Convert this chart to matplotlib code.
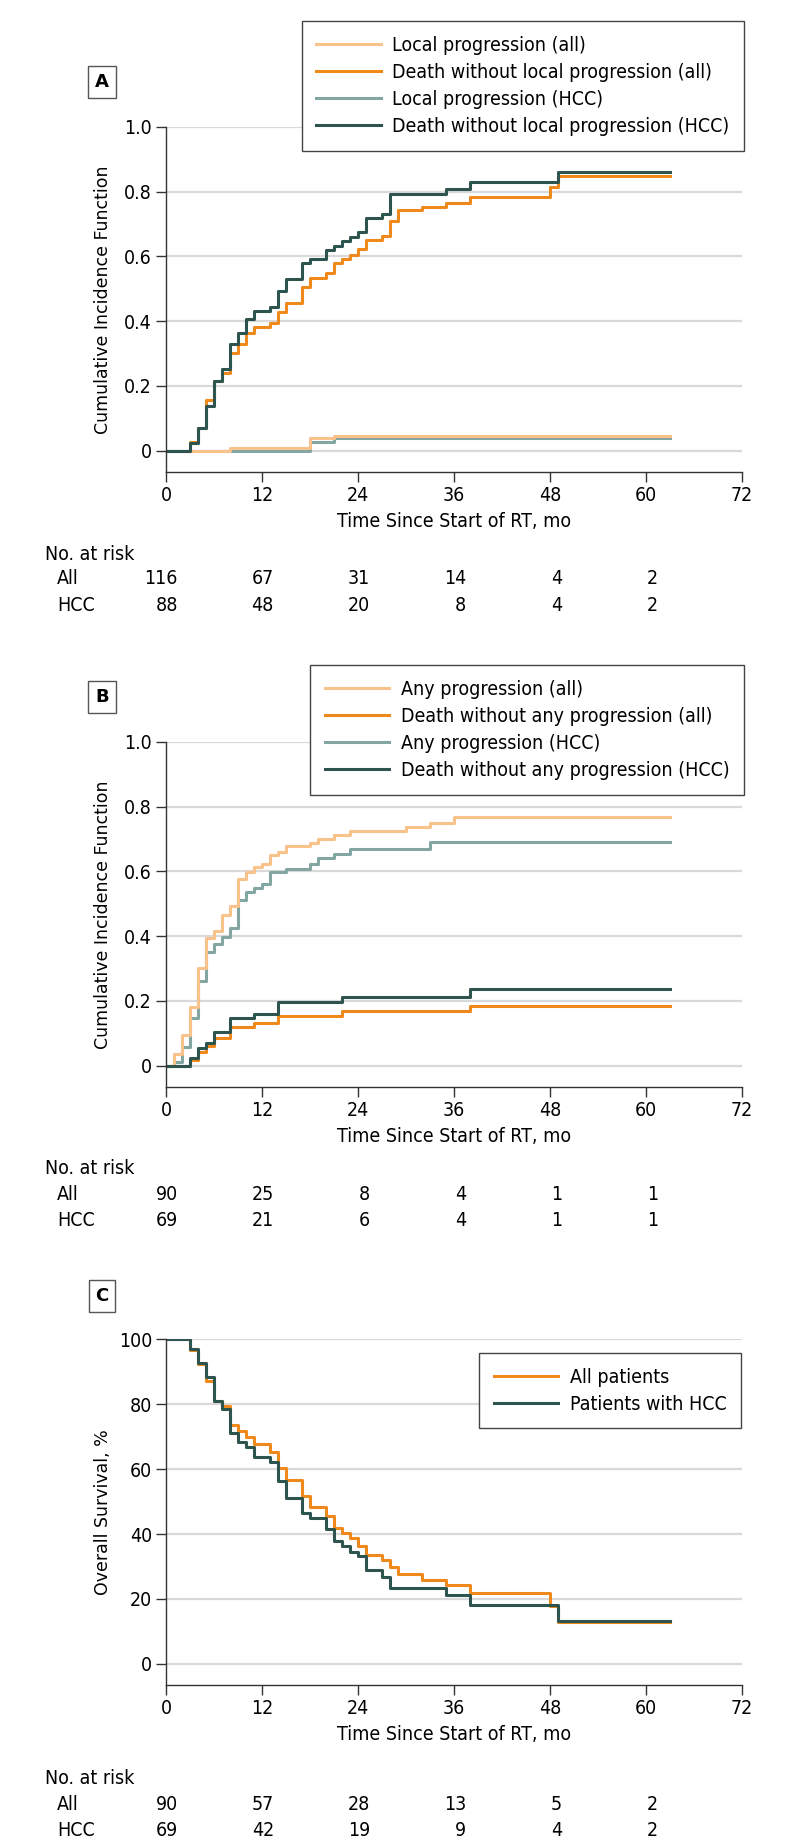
import matplotlib
matplotlib.use("Agg")
import matplotlib.pyplot as plt
from matplotlib import font_manager
from matplotlib.transforms import blended_transform_factory

# ---- pick a narrow font if one is installed ----
cands = []
for f in font_manager.fontManager.ttflist:
    nm = (f.name + " " + str(f.fname)).lower()
    narrow = ('narrow' in nm or 'condensed' in nm or f.stretch in ('condensed', 'semi-condensed', 'extra-condensed'))
    if narrow and f.style == 'normal' and f.weight in (400, 'normal', 'regular'):
        cands.append(f)
cands.sort(key=lambda f: (0 if 'Liberation' in f.name else 1 if 'DejaVu' in f.name else 2, f.fname))
NARROW = None
if cands:
    NARROW = font_manager.FontProperties(fname=cands[0].fname)
    plt.rcParams['font.family'] = [cands[0].name, 'DejaVu Sans']
    plt.rcParams['font.stretch'] = cands[0].stretch
else:
    plt.rcParams['font.family'] = ['DejaVu Sans']

# colours
C_LIGHT = '#F8C28A'
C_ORANGE = '#F0891C'
C_GRAY = '#84A6A2'
C_DARK = '#2E5450'

# ---- panel A : local progression ----
a_loc_all_t = [0, 8, 18, 21, 63]
a_loc_all_v = [0, .010, .038, .047, .047]
a_death_all_t = [0, 3, 4, 5, 6, 7, 8, 9, 10, 11, 13, 14, 15, 17, 18, 20, 21, 22, 23, 24, 25, 27, 28, 29, 32, 35, 38, 48, 49, 63]
a_death_all_v = [0, .028, .069, .156, .216, .241, .302, .328, .364, .383, .393, .427, .457, .504, .532, .550, .581, .593,
                 .604, .624, .652, .664, .709, .742, .753, .765, .784, .815, .848, .848]
a_loc_hcc_t = [0, 18, 21, 63]
a_loc_hcc_v = [0, .027, .038, .038]
a_death_hcc_t = [0, 3, 4, 5, 6, 7, 8, 9, 10, 11, 13, 14, 15, 17, 18, 20, 21, 22, 23, 24, 25, 27, 28, 35, 38, 49, 63]
a_death_hcc_v = [0, .023, .069, .138, .216, .251, .331, .364, .408, .432, .444, .493, .530, .580, .592, .619, .632, .647,
                 .660, .675, .717, .732, .794, .809, .830, .861, .861]
a_labels = ["Local progression (all)", "Death without local progression (all)",
            "Local progression (HCC)", "Death without local progression (HCC)"]
a_risk_all = [116, 67, 31, 14, 4, 2]
a_risk_hcc = [88, 48, 20, 8, 4, 2]

# ---- panel B : any progression ----
b_any_all_t = [0, 1, 2, 3, 4, 5, 6, 7, 8, 9, 10, 11, 12, 13, 14, 15, 18, 19, 21, 23, 30, 33, 36, 63]
b_any_all_v = [0, .035, .095, .182, .302, .395, .415, .465, .493, .578, .598, .614, .624, .650, .660, .678, .689, .699,
               .714, .724, .737, .751, .768, .768]
b_death_all_t = [0, 3, 4, 5, 6, 8, 11, 14, 22, 38, 63]
b_death_all_v = [0, .017, .043, .061, .087, .120, .133, .154, .170, .185, .185]
b_any_hcc_t = [0, 1, 2, 3, 4, 5, 6, 7, 8, 9, 10, 11, 12, 13, 15, 18, 19, 21, 23, 33, 63]
b_any_hcc_v = [0, .012, .057, .148, .261, .352, .375, .398, .424, .513, .537, .549, .562, .598, .609, .624, .640, .655,
               .670, .691, .691]
b_death_hcc_t = [0, 3, 4, 5, 6, 8, 11, 14, 22, 38, 63]
b_death_hcc_v = [0, .023, .056, .069, .103, .148, .160, .197, .213, .237, .237]
b_labels = ["Any progression (all)", "Death without any progression (all)",
            "Any progression (HCC)", "Death without any progression (HCC)"]
b_risk_all = [90, 25, 8, 4, 1, 1]
b_risk_hcc = [69, 21, 6, 4, 1, 1]

# ---- panel C : overall survival ----
c_all_t = [0, 3, 4, 5, 6, 7, 8, 9, 10, 11, 13, 14, 15, 17, 18, 20, 21, 22, 23, 24, 25, 27, 28, 29, 32, 35, 38, 48, 49, 63]
c_all_v = [100, 96.7, 92.3, 87.0, 81.1, 79.3, 73.6, 71.6, 70.0, 67.8, 65.4, 60.5, 56.7, 51.7, 48.2, 45.6, 41.8, 40.2,
           38.7, 36.3, 33.6, 32.0, 29.8, 27.7, 25.9, 24.3, 21.8, 17.7, 12.8, 12.8]
c_hcc_t = [0, 3, 4, 5, 6, 7, 8, 9, 10, 11, 13, 14, 15, 17, 18, 20, 21, 22, 23, 24, 25, 27, 28, 35, 38, 49, 63]
c_hcc_v = [100, 97.0, 92.8, 88.5, 81.1, 78.5, 71.0, 68.3, 66.7, 63.6, 62.3, 56.2, 51.2, 46.4, 44.9, 41.5, 37.9, 36.4,
           34.6, 33.1, 29.0, 26.9, 23.3, 21.3, 18.2, 13.3, 13.3]
c_labels = ["All patients", "Patients with HCC"]
c_risk_all = [90, 57, 28, 13, 5, 2]
c_risk_hcc = [69, 42, 19, 9, 4, 2]

x_ticks = [0, 12, 24, 36, 48, 60, 72]
risk_times = [0, 12, 24, 36, 48, 60]

W, H = 794, 1847
FS = 14 if NARROW is not None else 12


def fx(px):
    return px / W


def fy(py):
    return 1 - py / H


fig = plt.figure(figsize=(W / 100, H / 100), dpi=100)


def make_axes(top, bottom, ymin, ymax, yticks, yticklabels, ylabel):
    ax = fig.add_axes([fx(166), fy(bottom), fx(742) - fx(166), fy(top) - fy(bottom)])
    ax.set_xlim(0, 72)
    ax.set_ylim(ymin, ymax)
    ax.set_xticks(x_ticks)
    ax.set_yticks(yticks)
    ax.set_yticklabels(yticklabels)
    ax.tick_params(labelsize=FS, length=7, width=1, color='#333333', pad=3)
    for s in ['top', 'right']:
        ax.spines[s].set_visible(False)
    for s in ['left', 'bottom']:
        ax.spines[s].set_color('#333333')
        ax.spines[s].set_linewidth(1)
    ax.grid(axis='y', color='#d9d9d9', lw=1.6)
    ax.set_axisbelow(True)
    ax.set_xlabel("Time Since Start of RT, mo", fontsize=FS, labelpad=5)
    fig.text(fx(103), (fy(top) + fy(bottom)) / 2, ylabel, rotation=90, ha='center', va='center',
             fontsize=12.5, family='DejaVu Sans', stretch='normal')
    return ax


def letter(py, s):
    fig.text(fx(102), fy(py), s, ha='center', va='center', fontsize=13, fontweight='bold',
             family='DejaVu Sans', stretch='normal',
             bbox=dict(boxstyle='square,pad=0.38', fc='white', ec='#555555', lw=1))


def risk_table(ax, y0, risk_all, risk_hcc):
    fig.text(fx(45), fy(y0), "No. at risk", ha='left', va='center', fontsize=FS)
    fig.text(fx(57), fy(y0 + 25), "All", ha='left', va='center', fontsize=FS)
    fig.text(fx(57), fy(y0 + 51), "HCC", ha='left', va='center', fontsize=FS)
    tr = blended_transform_factory(ax.transData, fig.transFigure)
    for t, n1, n2 in zip(risk_times, risk_all, risk_hcc):
        ax.text(t + 1.5, fy(y0 + 25), str(n1), transform=tr, ha='right', va='center', fontsize=FS)
        ax.text(t + 1.5, fy(y0 + 51), str(n2), transform=tr, ha='right', va='center', fontsize=FS)


def legend(ax, handles, labels, right, top):
    leg = ax.legend(handles, labels, loc='upper right', bbox_to_anchor=(fx(right), fy(top)),
                    bbox_transform=fig.transFigure, fontsize=FS, frameon=True, fancybox=False,
                    handlelength=3.3, handletextpad=0.6, labelspacing=0.42, borderpad=0.75,
                    borderaxespad=0)
    leg.get_frame().set_edgecolor('#444444')
    leg.get_frame().set_linewidth(1)
    leg.get_frame().set_alpha(1)


cif_ticks = [0, .2, .4, .6, .8, 1.0]
cif_labels = ['0', '0.2', '0.4', '0.6', '0.8', '1.0']
LW = 2.2

# panel A
axA = make_axes(126.8, 471.8, -0.065, 1.0, cif_ticks, cif_labels, "Cumulative Incidence Function")
l3, = axA.step(a_loc_hcc_t, a_loc_hcc_v, where='post', color=C_GRAY, lw=LW)
l1, = axA.step(a_loc_all_t, a_loc_all_v, where='post', color=C_LIGHT, lw=LW)
l2, = axA.step(a_death_all_t, a_death_all_v, where='post', color=C_ORANGE, lw=LW)
l4, = axA.step(a_death_hcc_t, a_death_hcc_v, where='post', color=C_DARK, lw=LW)
legend(axA, [l1, l2, l3, l4], a_labels, 744, 21)
letter(82, 'A')
risk_table(axA, 554, a_risk_all, a_risk_hcc)

# panel B
axB = make_axes(741.9, 1086.8, -0.065, 1.0, cif_ticks, cif_labels, "Cumulative Incidence Function")
m3, = axB.step(b_any_hcc_t, b_any_hcc_v, where='post', color=C_GRAY, lw=LW)
m1, = axB.step(b_any_all_t, b_any_all_v, where='post', color=C_LIGHT, lw=LW)
m2, = axB.step(b_death_all_t, b_death_all_v, where='post', color=C_ORANGE, lw=LW)
m4, = axB.step(b_death_hcc_t, b_death_hcc_v, where='post', color=C_DARK, lw=LW)
legend(axB, [m1, m2, m3, m4], b_labels, 744, 665)
letter(697, 'B')
risk_table(axB, 1169, b_risk_all, b_risk_hcc)

# panel C
axC = make_axes(1339.3, 1685, -6.5, 100, [0, 20, 40, 60, 80, 100], ['0', '20', '40', '60', '80', '100'],
                "Overall Survival, %")
n1, = axC.step(c_all_t, c_all_v, where='post', color=C_ORANGE, lw=LW)
n2, = axC.step(c_hcc_t, c_hcc_v, where='post', color=C_DARK, lw=LW)
legend(axC, [n1, n2], c_labels, 741, 1353)
letter(1296, 'C')
risk_table(axC, 1779, c_risk_all, c_risk_hcc)

fig.savefig("out.png", dpi=100, facecolor='white')
